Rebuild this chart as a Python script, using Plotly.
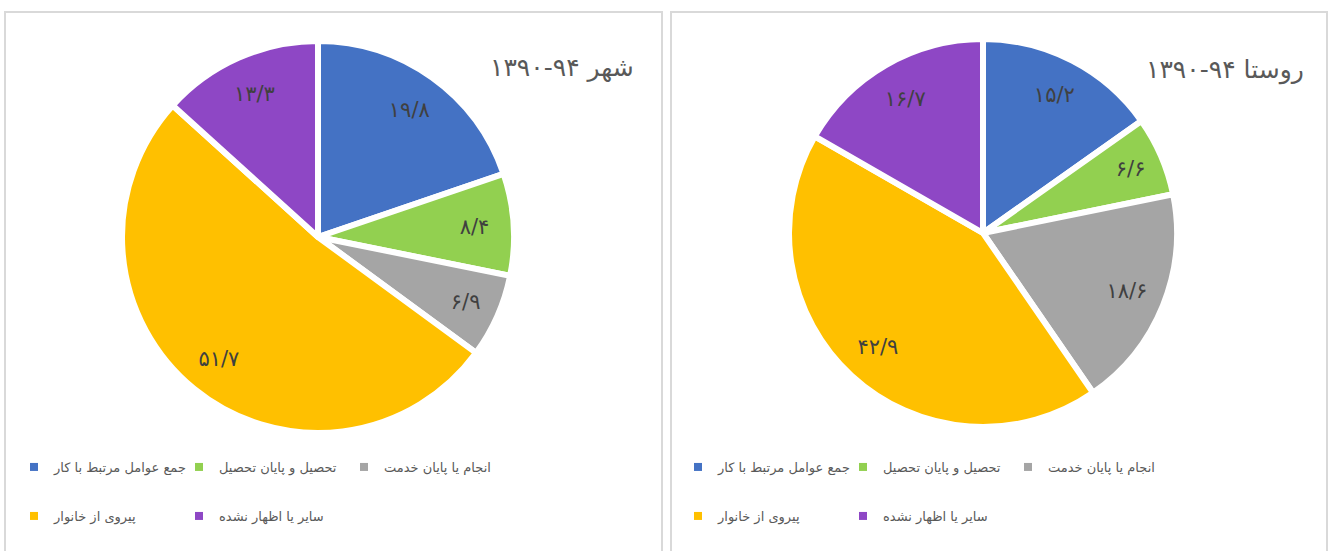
import plotly.graph_objects as go

# ---- data ----
categories = ["جمع عوامل مرتبط با کار", "تحصیل و پایان تحصیل", "انجام یا پایان خدمت",
              "پیروی از خانوار", "سایر یا اظهار نشده"]
city_values = [19.8, 8.4, 6.9, 51.7, 13.3]
village_values = [15.2, 6.6, 18.6, 42.9, 16.7]
city_title = "شهر ۱۳۹۰-۹۴"
village_title = "روستا ۱۳۹۰-۹۴"
colors = ["#4472C4", "#92D050", "#A5A5A5", "#FFC000", "#8E47C5"]

FONT = "DejaVu Sans"
W, H = 1332, 551

fa_digits = str.maketrans("0123456789.", "۰۱۲۳۴۵۶۷۸۹/")


def fa_num(v):
    return f"{v:g}".translate(fa_digits)


def rtl(s):
    # render mixed Persian text/number right-to-left, keeping the number range intact
    return "\u202b" + s.replace("-", "\u200e-\u200e") + "\u202c"


def px_x(p):
    return p / W


def px_y(p):
    return 1 - p / H


fig = go.Figure()


def add_pie(values, cx, cy, r):
    dom = dict(x=[px_x(cx - r), px_x(cx + r)], y=[px_y(cy + r), px_y(cy - r)])
    common = dict(labels=categories, values=values, sort=False, direction="clockwise",
                  rotation=0, domain=dom, showlegend=False)
    # coloured slices
    fig.add_trace(go.Pie(
        **common, textinfo="none",
        marker=dict(colors=colors, line=dict(color="white", width=6)),
        hoverinfo="label+value",
    ))
    # transparent ring carrying the value labels toward the outer part of each slice
    fig.add_trace(go.Pie(
        **common, hole=0.6,
        text=[fa_num(v) for v in values], textinfo="text", textposition="inside",
        insidetextorientation="horizontal",
        textfont=dict(family=FONT, size=21, color="#404040"),
        marker=dict(colors=["rgba(0,0,0,0)"] * len(values), line=dict(width=0)),
        hoverinfo="skip",
    ))


add_pie(city_values, 318, 237, 196)
add_pie(village_values, 983, 233, 194)

# legend entries (two rows per panel)
rows = [[0, 1, 2], [3, 4]]
legend_names = ["legend", "legend2", "legend3", "legend4"]
li = 0
for panel in range(2):
    for row in rows:
        for i in row:
            fig.add_trace(go.Scatter(
                x=[None], y=[None], mode="markers", name=categories[i],
                marker=dict(symbol="square", size=8, color=colors[i]),
                legend=legend_names[li], hoverinfo="skip",
            ))
        li += 1

leg_common = dict(orientation="h", xanchor="left", yanchor="middle",
                  bgcolor="rgba(0,0,0,0)", borderwidth=0,
                  font=dict(family=FONT, size=13, color="#595959"),
                  entrywidth=120, entrywidthmode="pixels", itemclick=False, itemdoubleclick=False)
legend_pos = [(14, 467), (14, 516), (678, 467), (678, 516)]
for name, (lx, ly) in zip(legend_names, legend_pos):
    fig.update_layout(**{name: dict(leg_common, x=px_x(lx), y=px_y(ly))})

# panel borders
for x0, x1 in [(5, 662), (671, 1327)]:
    fig.add_shape(type="rect", xref="paper", yref="paper",
                  x0=px_x(x0), x1=px_x(x1), y0=-0.1, y1=px_y(12),
                  line=dict(color="#D9D9D9", width=2), fillcolor="rgba(0,0,0,0)", layer="below")

# titles
for txt, tx, ty in [(city_title, 636, 68), (village_title, 1306, 70)]:
    fig.add_annotation(text=rtl(txt), xref="paper", yref="paper", x=px_x(tx), y=px_y(ty),
                       xanchor="right", yanchor="middle", showarrow=False,
                       font=dict(family=FONT, size=25, color="#595959"))

fig.update_layout(
    width=W, height=H, margin=dict(l=0, r=0, t=0, b=0),
    paper_bgcolor="white", plot_bgcolor="white",
    xaxis=dict(visible=False), yaxis=dict(visible=False),
)

fig.write_html("out.html")
